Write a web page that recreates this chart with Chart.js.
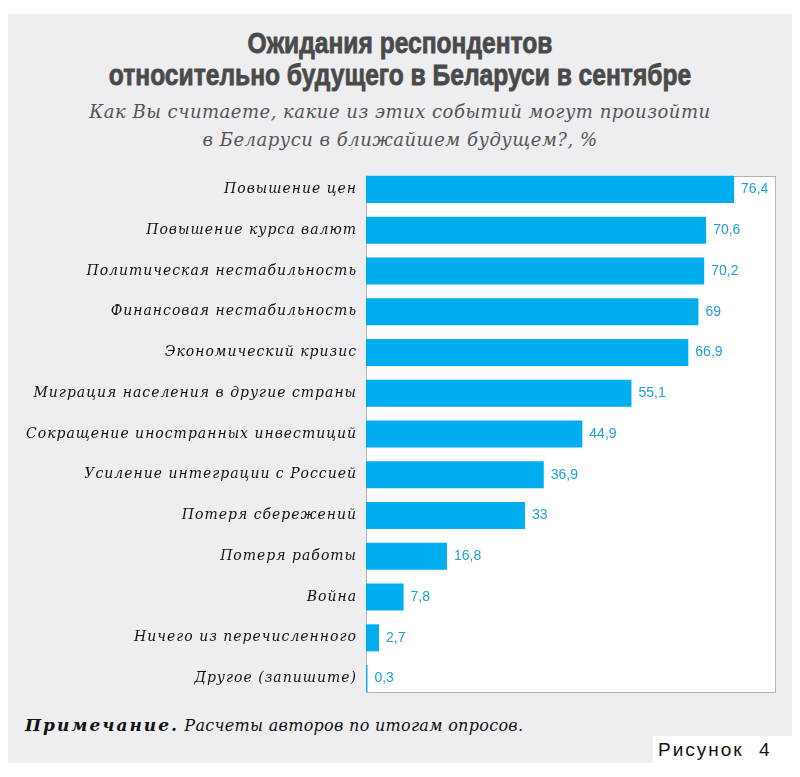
<!DOCTYPE html>
<html>
<head>
<meta charset="utf-8">
<script src="https://cdn.jsdelivr.net/npm/chart.js@4/dist/chart.umd.min.js"></script>
<style>
  body { margin: 0; background: #fff; width: 800px; height: 777px; position: relative; overflow: hidden; }
  #panel { position: absolute; left: 8px; top: 14px; width: 784px; height: 749px; background: #eeeef0; }
  #title { position: absolute; left: 0; top: 27px; width: 800px; text-align: center;
           font-family: "Liberation Sans", sans-serif; font-weight: bold;
           font-size: 30px; line-height: 32px; color: #4a4a4a; -webkit-text-stroke: 0.8px #4a4a4a;
           transform: scaleX(0.82); transform-origin: 400px 0; }
  #sub { position: absolute; left: 0; top: 98px; width: 800px; text-align: center;
         font-family: "DejaVu Serif", serif; font-style: italic; font-size: 18px; line-height: 28px;
         color: #555; letter-spacing: 0.5px; }
  #note { position: absolute; left: 25px; top: 715px; font-family: "DejaVu Serif", serif; font-style: italic;
          font-size: 16px; color: #111; letter-spacing: 0.3px; }
  #note b { letter-spacing: 2px; font-size: 17px; }
  #fig { position: absolute; left: 653px; top: 736px; width: 147px; height: 28px; background: #fff;
         font-family: "Liberation Sans", sans-serif; font-size: 19px; letter-spacing: 2px; word-spacing: 8px;
         line-height: 28px; padding-left: 5px; box-sizing: border-box; color: #111; }
  #wrap { position: absolute; left: 0; top: 160px; width: 800px; height: 545px; }
</style>
</head>
<body>
<div id="panel"></div>
<div id="title">Ожидания респондентов<br>относительно будущего в Беларуси в сентябре</div>
<div id="sub">Как Вы считаете, какие из этих событий могут произойти<br>в Беларуси в ближайшем будущем?, %</div>
<div id="wrap"><canvas id="bar-chart"></canvas></div>
<div id="note"><b>Примечание.</b> Расчеты авторов по итогам опросов.</div>
<div id="fig">Рисунок 4</div>
<script>
//Data
var labels = ["Повышение цен", "Повышение курса валют", "Политическая нестабильность",
  "Финансовая нестабильность", "Экономический кризис", "Миграция населения в другие страны",
  "Сокращение иностранных инвестиций", "Усиление интеграции с Россией", "Потеря сбережений",
  "Потеря работы", "Война", "Ничего из перечисленного", "Другое (запишите)"];
var values = [76.4, 70.6, 70.2, 69, 66.9, 55.1, 44.9, 36.9, 33, 16.8, 7.8, 2.7, 0.3];

//white plot box with grey border, hugging the first and last bar
var plotBox = {
  id: 'plotBox',
  beforeDatasetsDraw: function(chart){
    var a = chart.chartArea, ctx = chart.ctx;
    var bars = chart.getDatasetMeta(0).data;
    var top = bars[0].y - bars[0].height / 2;
    var last = bars[bars.length - 1];
    var bottom = last.y + last.height / 2;
    ctx.save();
    ctx.fillStyle = '#fff';
    ctx.fillRect(a.left, top, a.right - a.left, bottom - top);
    ctx.strokeStyle = '#b4b4b4';
    ctx.lineWidth = 1;
    ctx.strokeRect(Math.round(a.left) + 0.5, Math.round(top) + 0.5,
      Math.round(a.right - a.left) - 1, Math.round(bottom - top));
    ctx.restore();
  },
  beforeDraw: function(chart){
    chart.ctx.letterSpacing = '1px';
  }
};

//value labels next to bars
var valueLabels = {
  id: 'valueLabels',
  afterDatasetsDraw: function(chart){
    var ctx = chart.ctx;
    var meta = chart.getDatasetMeta(0);
    ctx.save();
    ctx.letterSpacing = '0px';
    ctx.fillStyle = '#1fa0da';
    ctx.font = '14px "Liberation Sans", Arial, sans-serif';
    ctx.textBaseline = 'middle';
    ctx.textAlign = 'left';
    meta.data.forEach(function(bar, i){
      ctx.fillText(values[i].toString().replace('.', ','), bar.x + 7, bar.y);
    });
    ctx.restore();
  }
};

var chart = new Chart(document.getElementById('bar-chart'), {
  type: 'bar',
  data: {
    labels: labels,
    datasets: [{
      data: values,
      backgroundColor: '#00adef',
      barPercentage: 0.663,
      categoryPercentage: 1
    }]
  },
  options: {
    indexAxis: 'y',
    responsive: true,
    maintainAspectRatio: false,
    animation: false,
    layout: { padding: { top: 9, right: 24, bottom: 6, left: 0 } },
    plugins: { legend: { display: false }, tooltip: { enabled: false } },
    scales: {
      x: { display: false, min: 0, max: 85.1 },
      y: {
        grid: { display: false },
        border: { display: false },
        ticks: {
          padding: 1,
          color: '#111',
          font: { family: '"DejaVu Serif", serif', style: 'italic', size: 14 }
        },
        afterFit: function(scale){
          scale.width = 366;
          scale.paddingTop = 0;
          scale.paddingBottom = 0;
        }
      }
    }
  },
  plugins: [plotBox, valueLabels]
});
</script>
</body>
</html>
